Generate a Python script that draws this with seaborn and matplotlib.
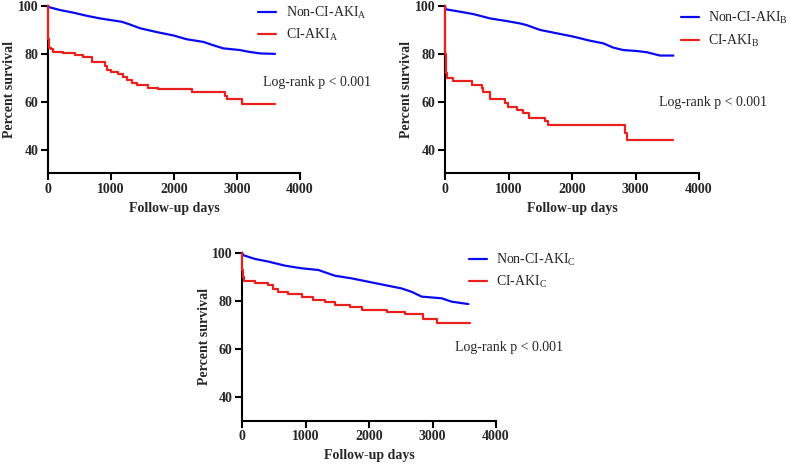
import numpy as np
import pandas as pd
import matplotlib
matplotlib.use("Agg")
import matplotlib.pyplot as plt
import seaborn as sns

# ---------------- data ----------------
A_non_days = [0, 15, 190, 402, 614, 825, 1169, 1275, 1460, 1725, 1989, 2201, 2465, 2624, 2783, 3047, 3179, 3365, 3603]
A_non_surv = [100, 99.4, 98.2, 97.1, 95.8, 94.7, 93.3, 92.4, 90.6, 89.0, 87.6, 86.0, 84.9, 83.5, 82.2, 81.5, 80.8, 80.1, 79.9]
A_ci_days = [0, 1, 5, 20, 40, 85, 243, 428, 560, 693, 905, 930, 1000, 1116, 1196, 1260, 1330, 1407, 1592, 1751, 2280, 2809, 2840, 3073, 3602]
A_ci_surv = [100, 92, 86, 82.5, 81.8, 80.8, 80.4, 79.4, 78.5, 76.7, 74.9, 73.2, 72.5, 71.5, 70.4, 69.0, 67.6, 67.0, 65.8, 65.1, 64.2, 62.4, 61.2, 59.2, 59.2]

B_non_days = [0, 10, 236, 446, 709, 971, 1181, 1286, 1496, 1758, 2021, 2283, 2493, 2651, 2808, 3018, 3176, 3386, 3596]
B_non_surv = [100, 98.5, 97.5, 96.5, 94.7, 93.6, 92.6, 91.9, 89.9, 88.5, 87.1, 85.4, 84.3, 82.5, 81.5, 81.1, 80.6, 79.2, 79.2]
B_ci_days = [0, 3, 10, 20, 37, 120, 420, 588, 600, 709, 945, 997, 1129, 1234, 1328, 1575, 1627, 2834, 2861, 3590]
B_ci_surv = [100, 80, 74.6, 72, 69.7, 68.6, 67.0, 65.5, 63.8, 61.0, 59.3, 57.9, 56.5, 55.1, 53.3, 51.7, 50.1, 47.1, 44.0, 44.0]

C_non_days = [0, 10, 200, 410, 673, 935, 1198, 1461, 1724, 1987, 2250, 2512, 2670, 2828, 3143, 3301, 3564]
C_non_surv = [100, 99, 97.4, 96.3, 94.6, 93.5, 92.8, 90.4, 89.3, 87.9, 86.5, 85.1, 83.7, 81.7, 81.0, 79.6, 78.6]
C_ci_days = [0, 2, 10, 30, 200, 410, 490, 568, 725, 935, 1120, 1303, 1461, 1698, 1882, 2276, 2565, 2854, 3064, 3590]
C_ci_surv = [100, 93, 90, 88.4, 87.4, 86.4, 85.0, 83.7, 82.6, 81.5, 80.5, 79.4, 78.3, 77.2, 76.1, 75.3, 74.3, 72.3, 70.6, 70.6]

x_ticks = [0, 1000, 2000, 3000, 4000]
y_ticks = [40, 60, 80, 100]
x_label = "Follow-up days"
y_label = "Percent survival"
p_text = "Log-rank p < 0.001"
panels = ["A", "B", "C"]

# ---------------- style ----------------
sns.set_style("ticks")
plt.rcParams["font.family"] = ["Liberation Serif", "DejaVu Serif"]
plt.rcParams["mathtext.fontset"] = "custom"
plt.rcParams["mathtext.rm"] = "Liberation Serif"
plt.rcParams["mathtext.it"] = "Liberation Serif:italic"
plt.rcParams["mathtext.bf"] = "Liberation Serif:bold"

BLUE = "#0A0AF0"
RED = "#E8201E"
FS = 10

fig = plt.figure(figsize=(7.9, 4.66), dpi=100)
W, H = 790, 466

def px_axes(left, right, top, bottom):
    return fig.add_axes([left / W, 1 - bottom / H, (right - left) / W, (bottom - top) / H])

axes_pos = {
    "A": (48, 300, 5.7, 173.5),
    "B": (445, 699, 5.7, 173.5),
    "C": (242.3, 496, 252.7, 420.7),
}
legend_anchor = {"A": (0.835, 1.006), "B": (0.930, 0.973), "C": (0.895, 1.006)}
ptext_pos = {"A": (0.853, 0.54), "B": (0.843, 0.426), "C": (0.838, 0.433)}

data = {
    "A": (A_non_days, A_non_surv, A_ci_days, A_ci_surv),
    "B": (B_non_days, B_non_surv, B_ci_days, B_ci_surv),
    "C": (C_non_days, C_non_surv, C_ci_days, C_ci_surv),
}

for p in panels:
    ax = px_axes(*axes_pos[p])
    nd, ns, cd, cs = data[p]
    lab_non = r"Non-CI-AKI$_{\mathregular{%s}}$" % p
    lab_ci = r"CI-AKI$_{\mathregular{%s}}$" % p
    df_non = pd.DataFrame({"days": nd, "surv": ns})
    df_ci = pd.DataFrame({"days": cd, "surv": cs})
    sns.lineplot(data=df_non, x="days", y="surv", ax=ax, color=BLUE, lw=1.6,
                 estimator=None, sort=False, label=lab_non, clip_on=False, zorder=5)
    sns.lineplot(data=df_ci, x="days", y="surv", ax=ax, color=RED, lw=1.6,
                 estimator=None, sort=False, drawstyle="steps-post", label=lab_ci,
                 clip_on=False, zorder=6)
    ax.set_xlim(0, 4000)
    ax.set_ylim(30, 100)
    ax.set_xticks(x_ticks)
    ax.set_yticks(y_ticks)
    sns.despine(ax=ax)
    for s in ["left", "bottom"]:
        ax.spines[s].set_linewidth(1.5)
        ax.spines[s].set_color("black")
    ax.tick_params(axis="both", width=1.5, length=5, labelsize=FS, pad=2, color="black")
    for t in ax.get_xticklabels() + ax.get_yticklabels():
        t.set_fontweight("bold")
    ax.set_xlabel(x_label, fontsize=FS, fontweight="bold", labelpad=4)
    ax.set_ylabel(y_label, fontsize=FS, fontweight="bold", labelpad=1)
    leg = ax.legend(loc="upper left", bbox_to_anchor=legend_anchor[p], frameon=False,
                    fontsize=FS, handlelength=1.3, handletextpad=0.65,
                    borderpad=0, borderaxespad=0, labelspacing=0.45)
    for ln in leg.get_lines():
        ln.set_linewidth(1.6)
    ax.text(*ptext_pos[p], p_text, transform=ax.transAxes, fontsize=FS,
            ha="left", va="center", clip_on=False)

fig.savefig("out.png", dpi=100)
